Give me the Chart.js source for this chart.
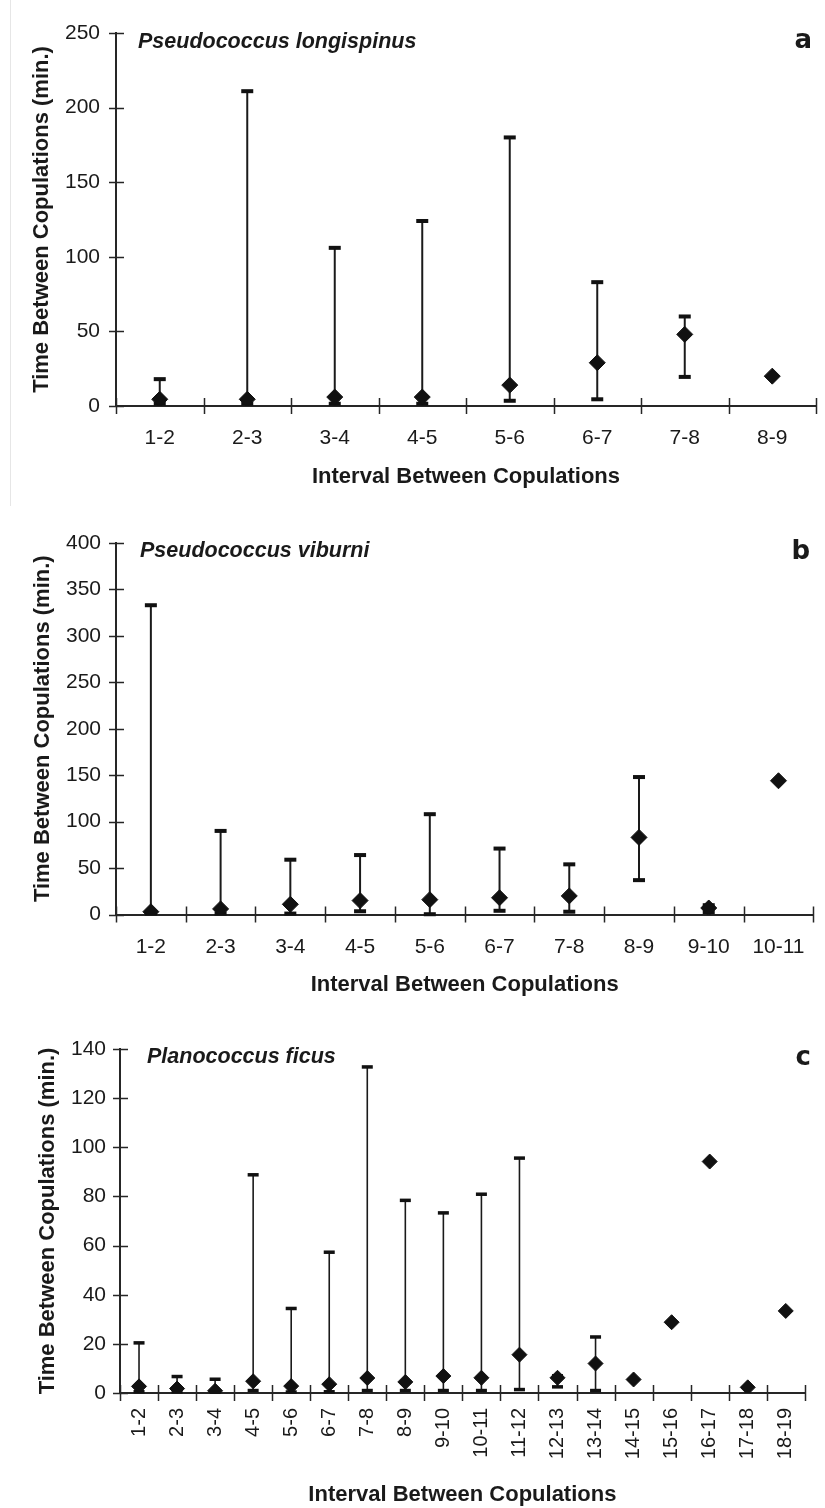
<!DOCTYPE html>
<html>
<head>
<meta charset="utf-8">
<script src="https://cdn.jsdelivr.net/npm/chart.js@4.4.1/dist/chart.umd.min.js"></script>
<style>
  html, body { margin: 0; padding: 0; background: #fff; }
  body { width: 825px; height: 1508px; position: relative; overflow: hidden; }
  canvas { position: absolute; left: 0; }
  #edge { position: absolute; left: 10px; top: 0; width: 0; height: 506px; border-left: 1px solid #e6e6e6; }
</style>
</head>
<body>
<div id="edge"></div>
<canvas id="chartA" width="825" height="500" style="top:0px"></canvas>
<canvas id="chartB" width="825" height="510" style="top:500px"></canvas>
<canvas id="chartC" width="825" height="498" style="top:1010px"></canvas>
<script>
// ---- Pseudococcus longispinus ----
const intervalsA = ['1-2', '2-3', '3-4', '4-5', '5-6', '6-7', '7-8', '8-9'];
const meanA  = [4.5, 4.5, 6, 6, 14, 29, 48, 20];
const upperA = [18, 211, 106, 124, 180, 83, 60, null];
const lowerA = [1.5, 1.5, 1.5, 1.5, 3.5, 4.5, 19.5, null];
const ticksA = [0, 50, 100, 150, 200, 250];

// ---- Pseudococcus viburni ----
const intervalsB = ['1-2', '2-3', '3-4', '4-5', '5-6', '6-7', '7-8', '8-9', '9-10', '10-11'];
const meanB  = [3, 6, 11, 15, 16, 18, 20, 83, 7, 144];
const upperB = [333, 90, 59, 64, 108, 71, 54, 148, 10, null];
const lowerB = [1, 1, 1, 3.5, 0.3, 4, 3, 37, 2.5, null];
const ticksB = [0, 50, 100, 150, 200, 250, 300, 350, 400];

// ---- Planococcus ficus ----
const intervalsC = ['1-2', '2-3', '3-4', '4-5', '5-6', '6-7', '7-8', '8-9', '9-10', '10-11',
                    '11-12', '12-13', '13-14', '14-15', '15-16', '16-17', '17-18', '18-19'];
const meanC  = [2.7, 1.8, 0.9, 4.8, 2.8, 3.6, 6.1, 4.5, 6.9, 6.2, 15.6, 6.2, 12, 5.5, 28.8, 94.2, 2.3, 33.4];
const upperC = [20.4, 6.7, 5.6, 88.8, 34.4, 57.3, 132.7, 78.4, 73.3, 80.9, 95.6, 7, 22.8, null, null, null, null, null];
const lowerC = [0.5, 0.5, 0.3, 1, 0.4, 0.5, 1, 1, 1, 1, 1.4, 2.5, 1, null, null, null, null, null];
const ticksC = [0, 20, 40, 60, 80, 100, 120, 140];

const X_TITLE = 'Interval Between Copulations';
const Y_TITLE = 'Time Between Copulations (min.)';

const INK = '#1a1a1a';
const AXIS = '#262626';
const SANS = '"Liberation Sans", Arial, Helvetica, sans-serif';

Chart.defaults.font.family = SANS;
Chart.defaults.color = INK;

// Min–max range bars with flat caps, drawn under the markers.
const errorBarsPlugin = {
  id: 'errorBars',
  beforeDatasetsDraw(chart, args, opts) {
    const { ctx } = chart;
    const x = chart.scales.x, y = chart.scales.y;
    ctx.save();
    opts.upper.forEach((hi, i) => {
      const lo = opts.lower[i];
      if (hi == null || lo == null) return;
      const px = x.getPixelForValue(i);
      const yHi = y.getPixelForValue(hi);
      const yLo = y.getPixelForValue(lo);
      ctx.strokeStyle = INK;
      ctx.lineWidth = opts.lineWidth;
      ctx.beginPath();
      ctx.moveTo(px, yHi);
      ctx.lineTo(px, yLo);
      ctx.stroke();
      ctx.fillStyle = '#111';
      ctx.fillRect(px - opts.capWidth / 2, yHi - opts.capHeight / 2, opts.capWidth, opts.capHeight);
      ctx.fillRect(px - opts.capWidth / 2, yLo - opts.capHeight / 2, opts.capWidth, opts.capHeight);
    });
    ctx.restore();
  }
};

// Tick marks that cross both axis lines.
const crossTicksPlugin = {
  id: 'crossTicks',
  afterDraw(chart, args, opts) {
    const { ctx, chartArea } = chart;
    const x = chart.scales.x, y = chart.scales.y;
    ctx.save();
    ctx.strokeStyle = AXIS;
    ctx.lineWidth = 1.5;
    ctx.beginPath();
    y.ticks.forEach(t => {
      const py = Math.round(y.getPixelForValue(t.value)) + 0.5;
      ctx.moveTo(chartArea.left - opts.yOut, py);
      ctx.lineTo(chartArea.left + opts.yIn, py);
    });
    for (let i = 0; i <= x.getLabels().length; i++) {
      const px = Math.round(x.getPixelForValue(i - 0.5)) + 0.5;
      ctx.moveTo(px, chartArea.bottom - opts.xIn);
      ctx.lineTo(px, chartArea.bottom + opts.xOut);
    }
    ctx.stroke();
    ctx.restore();
  }
};

// Species name (top left of the plot) and panel letter (top right).
const panelTextPlugin = {
  id: 'panelText',
  afterDraw(chart, args, opts) {
    const { ctx, chartArea } = chart;
    ctx.save();
    ctx.fillStyle = INK;
    ctx.textBaseline = 'alphabetic';
    ctx.textAlign = 'left';
    ctx.font = 'italic bold 21.5px ' + SANS;
    ctx.fillText(opts.species, chartArea.left + opts.speciesDx, chartArea.top + opts.speciesDy);
    ctx.textAlign = 'right';
    ctx.font = 'bold 26px "DejaVu Sans", sans-serif';
    ctx.fillText(opts.letter, opts.letterX, chartArea.top + opts.letterDy);
    ctx.restore();
  }
};

function makePanel(id, p) {
  const canvas = document.getElementById(id);
  const H = canvas.height;
  return new Chart(canvas, {
    type: 'line',
    data: {
      labels: p.labels,
      datasets: [{
        data: p.mean,
        showLine: false,
        pointStyle: 'rectRot',
        pointRadius: p.markerRadius,
        pointHoverRadius: p.markerRadius,
        pointBackgroundColor: '#111',
        pointBorderColor: '#111',
        pointBorderWidth: 1
      }]
    },
    options: {
      responsive: false,
      animation: false,
      devicePixelRatio: 1,
      layout: { padding: { top: p.top, right: 825 - p.right, left: 0, bottom: 0 } },
      plugins: {
        legend: { display: false },
        tooltip: { enabled: false },
        errorBars: { upper: p.upper, lower: p.lower, lineWidth: p.barWidth, capWidth: p.capWidth, capHeight: p.capHeight },
        crossTicks: { yOut: 7, yIn: 8, xIn: 8, xOut: 8 },
        panelText: p.text
      },
      scales: {
        x: {
          type: 'category',
          offset: true,
          grid: { display: false, drawTicks: false },
          border: { display: true, color: AXIS, width: 2 },
          ticks: {
            autoSkip: false,
            maxRotation: p.rotate ? 90 : 0,
            minRotation: p.rotate ? 90 : 0,
            padding: p.xTickPad,
            color: INK,
            font: { size: p.xTickSize }
          },
          title: {
            display: true,
            text: X_TITLE,
            color: INK,
            font: { size: 22, weight: 'bold' },
            padding: { top: 0, bottom: p.xTitlePad }
          },
          afterFit(scale) { scale.height = H - p.bottom; }
        },
        y: {
          min: p.yTicks[0],
          max: p.yTicks[p.yTicks.length - 1],
          grid: { display: false, drawTicks: false },
          border: { display: true, color: AXIS, width: 2 },
          afterBuildTicks(scale) { scale.ticks = p.yTicks.map(v => ({ value: v })); },
          ticks: { padding: p.yTickPad, color: INK, font: { size: 21 } },
          title: {
            display: true,
            text: Y_TITLE,
            color: INK,
            font: { size: 22, weight: 'bold' },
            padding: { top: p.yTitlePad, bottom: 0 }
          },
          afterFit(scale) { scale.width = p.left; }
        }
      }
    },
    plugins: [errorBarsPlugin, crossTicksPlugin, panelTextPlugin]
  });
}

makePanel('chartA', {
  labels: intervalsA, mean: meanA, upper: upperA, lower: lowerA, yTicks: ticksA,
  left: 116, right: 823, top: 33, bottom: 406,
  xTickPad: 20, xTickSize: 21, xTitlePad: 10, yTickPad: 16, yTitlePad: 29,
  markerRadius: 8, barWidth: 2, capWidth: 12, capHeight: 4,
  text: { species: 'Pseudococcus longispinus', speciesDx: 22, speciesDy: 15, letter: 'a', letterX: 812, letterDy: 15 }
});

makePanel('chartB', {
  labels: intervalsB, mean: meanB, upper: upperB, lower: lowerB, yTicks: ticksB,
  left: 116, right: 823, top: 43, bottom: 414.5,
  xTickPad: 20, xTickSize: 21, xTitlePad: 12, yTickPad: 15, yTitlePad: 30,
  markerRadius: 8, barWidth: 2, capWidth: 12, capHeight: 4,
  text: { species: 'Pseudococcus viburni', speciesDx: 24, speciesDy: 14, letter: 'b', letterX: 810, letterDy: 16 }
});

makePanel('chartC', {
  labels: intervalsC, mean: meanC, upper: upperC, lower: lowerC, yTicks: ticksC, rotate: true,
  left: 120, right: 820, top: 39, bottom: 383,
  xTickPad: 15, xTickSize: 20, xTitlePad: 0, yTickPad: 14, yTitlePad: 35,
  markerRadius: 7.5, barWidth: 1.6, capWidth: 11, capHeight: 3.5,
  text: { species: 'Planococcus ficus', speciesDx: 27, speciesDy: 14, letter: 'c', letterX: 811, letterDy: 16 }
});
</script>
</body>
</html>
